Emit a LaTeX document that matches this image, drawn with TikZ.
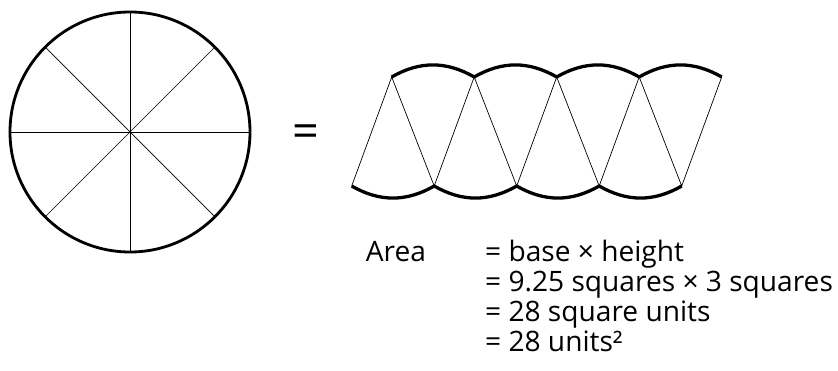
\documentclass[tikz,border=0pt]{standalone}
\usepackage{fontspec}
\setmainfont{Open Sans}

\tikzset{
  rim/.style={line width=2.4pt},
  spoke/.style={line width=0.6pt},
  crust/.style={line width=2.8pt},
  side/.style={line width=0.6pt},
  sum/.style={anchor=base west, font=\fontsize{24}{28}\selectfont}
}

\begin{document}
\begin{tikzpicture}[x=0.3mm,y=-0.3mm]
            \useasboundingbox (0,0) rectangle (838,371);

            % the whole pizza
            \coordinate (O) at (130,132);
            \foreach \a in {0,45,...,315}
                \draw[spoke] (O) -- ++(\a:120);
            \draw[rim] (O) circle (120);

            \node[anchor=base, font=\fontsize{40}{44}\selectfont] (eq) at (306,148) {=};

            % slices put side by side
            \foreach \i in {0,...,4} {
                \coordinate (T\i) at (391.7+82.5*\i,77);
                \coordinate (B\i) at (351.7+82.5*\i,186);
            }
            \draw[side] (B0)--(T0)--(B1)--(T1)--(B2)--(T2)--(B3)--(T3)--(B4)--(T4);
            \foreach \i [count=\j from 1] in {0,...,3} {
                \draw[crust] (T\i) to[bend left=30] (T\j);
                \draw[crust] (B\i) to[bend right=30] (B\j);
            }

            \node[sum] (area) at (361.7,261.7) {Area};
            \node[sum] (l1) at (481,261.7) {= base × height};
            \node[sum] (l2) at (481,291.5) {= 9.25 squares × 3 squares};
            \node[sum] (l3) at (481,321.3) {= 28 square units};
            \node[sum] (l4) at (481,351) {= 28 units²};
        \end{tikzpicture}
\end{document}
